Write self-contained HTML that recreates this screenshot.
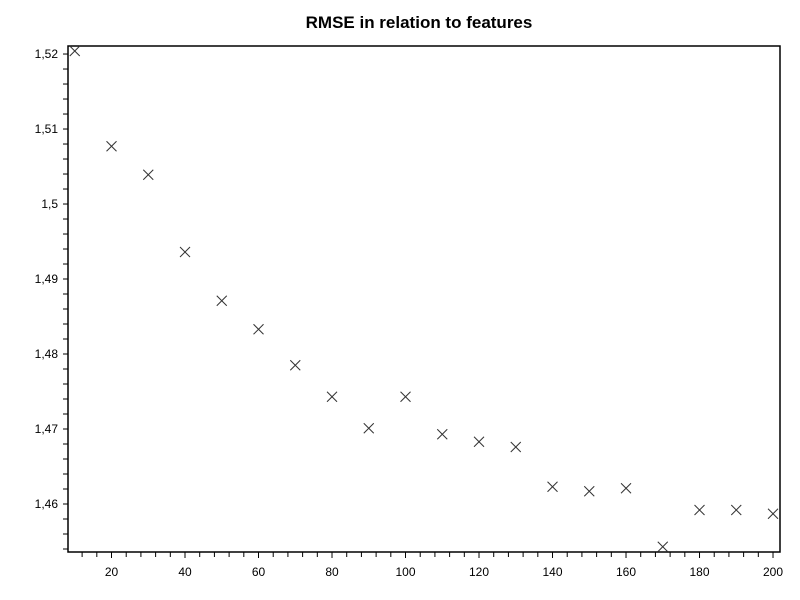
<!DOCTYPE html>
<html><head><meta charset="utf-8"><style>
html,body{margin:0;padding:0;background:#fff;}
svg{display:block;font-family:"Liberation Sans",sans-serif;}
</style></head><body>
<svg id="chart" width="800" height="600">
<text x="419" y="28" text-anchor="middle" font-size="17" font-weight="bold">RMSE in relation to features</text>
<g id="axes"></g>
<g id="marks"></g>
</svg>
<script>
const features = [10,20,30,40,50,60,70,80,90,100,110,120,130,140,150,160,170,180,190,200];
const rmse = [1.5204,1.5077,1.5039,1.4936,1.4871,1.4833,1.4785,1.4743,1.4701,1.4743,1.4693,1.4683,1.4676,1.4623,1.4617,1.4621,1.4543,1.4592,1.4592,1.4587];
const xTicks = [20,40,60,80,100,120,140,160,180,200];
const yTicks = [1.46,1.47,1.48,1.49,1.5,1.51,1.52];
const yTickLabels = ["1,46","1,47","1,48","1,49","1,5","1,51","1,52"];

const L=68,R=780,T=46,B=552;
const xMin=8.16,xMax=201.9,yMin=1.4536,yMax=1.52107;
const sx=v=>L+(v-xMin)/(xMax-xMin)*(R-L);
const sy=v=>B-(v-yMin)/(yMax-yMin)*(B-T);
const NS="http://www.w3.org/2000/svg";
function mk(tag,attrs,parent){const e=document.createElementNS(NS,tag);for(const k in attrs)e.setAttribute(k,attrs[k]);parent.appendChild(e);return e;}
const axes=document.getElementById('axes'), marks=document.getElementById('marks');
const frame=mk('rect',{x:L,y:T,width:R-L,height:B-T,fill:'none',stroke:'#000','stroke-width':1.5},axes);


// minor x ticks every 4
for(let v=12;v<=xMax;v+=4){
  const x=sx(v);
  const major=xTicks.includes(v);
  const t=mk('line',{x1:x,x2:x,y1:B,y2:B+(major?6:5),stroke:'#000','stroke-width':1},axes);
  
  
}
xTicks.forEach(v=>{
  const t=mk('text',{x:sx(v),y:B+24,'text-anchor':'middle','font-size':12,fill:'#000'},axes);
  t.textContent=v;
  
  
});
for(let i=0;;i++){
  const v=1.454+i*0.002; if(v>yMax)break;
  const y=sy(v);
  const t=mk('line',{x1:L-5,x2:L,y1:y,y2:y,stroke:'#000','stroke-width':1},axes);
  
  
}
yTicks.forEach((v,i)=>{
  const t=mk('text',{x:L-10,y:sy(v)+4,'text-anchor':'end','font-size':12,fill:'#000'},axes);
  t.textContent=yTickLabels[i];
  
  
});
features.forEach((f,i)=>{
  const x=sx(f),y=sy(rmse[i]),s=5;
  const g=mk('g',{},marks);
  
  
  mk('line',{x1:x-s,y1:y-s,x2:x+s,y2:y+s,stroke:'#333','stroke-width':1},g);
  mk('line',{x1:x-s,y1:y+s,x2:x+s,y2:y-s,stroke:'#333','stroke-width':1},g);
});
</script>
</body></html>
